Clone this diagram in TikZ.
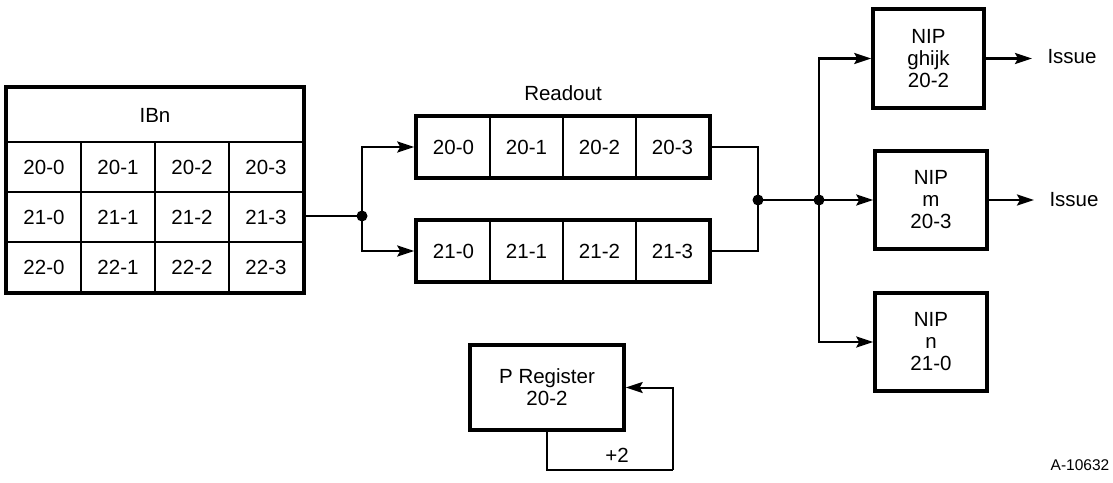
\documentclass[tikz,border=0pt]{standalone}
\usepackage{fontspec}
\setmainfont{Liberation Sans}
\usetikzlibrary{arrows.meta,fit}
\begin{document}
\begin{tikzpicture}[x=1pt,y=-1pt,
  every node/.style={font=\fontsize{20.5}{22}\selectfont},
  cell/.style={draw,line width=2pt,minimum height=50pt,minimum width=74pt,inner sep=0pt},
  rcell/.style={draw,line width=2pt,minimum height=60pt,minimum width=73pt,inner sep=0pt},
  frame/.style={draw,line width=3.5pt,inner sep=0pt},
  nipbox/.style={draw,line width=3.5pt,minimum width=112pt,minimum height=98pt,inner sep=0pt,align=center},
  wire/.style={line width=2.6pt},
  arrow/.style={wire,-{Stealth[length=17pt,width=11pt,inset=3pt]}},
  dot/.style={circle,fill,inner sep=0pt,minimum size=11pt}]
\useasboundingbox (0,0) rectangle (1113,482);

% IBn instruction buffer table
\node[cell,minimum width=296pt,minimum height=54pt] (ibh) at (155,115) {IBn};
\foreach \r/\y in {20/167,21/217,22/267}{
  \foreach \c in {0,1,2,3}{
    \node[cell] (b\r-\c) at ({44+74*\c},\y) {\r-\c};
  }
}
\node[frame,fit=(ibh)(b22-0)(b22-3)] (ib) {};

% Readout registers
\node (rdlbl) at (563,93) {Readout};
\foreach \c in {0,1,2,3}{
  \node[rcell] (ra\c) at ({453.5+73*\c},147) {20-\c};
  \node[rcell] (rb\c) at ({453.5+73*\c},251) {21-\c};
}
\node[frame,fit=(ra0)(ra3)] (rda) {};
\node[frame,fit=(rb0)(rb3)] (rdb) {};

% Next instruction pointers
\node[nipbox,minimum width=111pt,minimum height=99pt] (nip1) at (928.5,58.5) {NIP\\ghijk\\20-2};
\node[nipbox] (nip2) at (931,200) {NIP\\m\\20-3};
\node[nipbox] (nip3) at (931,342) {NIP\\n\\21-0};
\node[anchor=west] (iss1) at (1044,57) {Issue};
\node[anchor=west] (iss2) at (1046,200) {Issue};

% P register with +2 feedback
\node[nipbox,minimum width=154pt,minimum height=85pt] (preg) at (547,387.5) {P Register\\20-2};
\node (plus) at (617,455) {+2};
\coordinate (lp) at (673,470);

\node[font=\fontsize{15.5}{18}\selectfont] (tag) at (1080,465) {A-10632};

% Junction points
\coordinate (j1) at (362,216);
\coordinate (j2) at (758,200);
\coordinate (j3) at (819,200);

% Connections
\draw[wire] (ib.east |- j1) -- (j1);
\draw[arrow] (j1) |- (rda.west);
\draw[arrow] (j1) |- (rdb.west);
\draw[wire] (rda.east) -| (j2);
\draw[wire] (rdb.east) -| (j2);
\draw[wire] (j2) -- (j3);
\draw[arrow] (j3) |- (nip1.west);
\draw[arrow] (j3) -- (nip2.west);
\draw[arrow] (j3) |- (nip3.west);
\draw[arrow,shorten >=12pt] (nip1.east) -- (iss1.west |- nip1.east);
\draw[arrow,shorten >=12pt] (nip2.east) -- (iss2.west);
\draw[wire,line width=2pt] (preg.south) |- (lp);
\draw[arrow,line width=2pt] (lp) |- (preg.east);

% Junction dots on top of the wires
\foreach \j in {j1,j2,j3}{
  \node[dot] (d\j) at (\j) {};
}
\end{tikzpicture}
\end{document}
